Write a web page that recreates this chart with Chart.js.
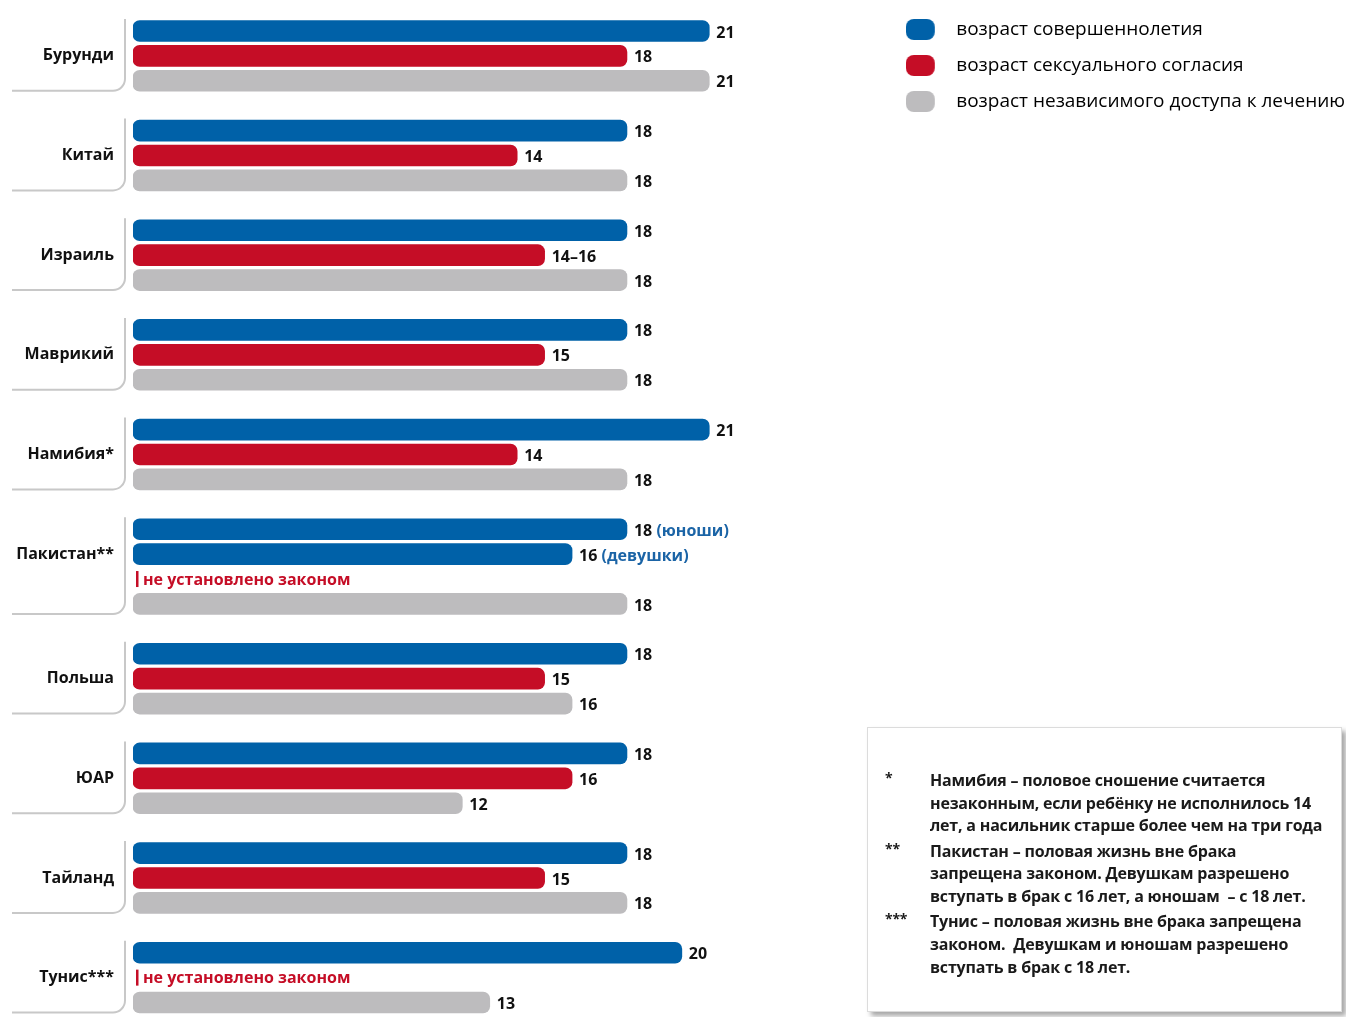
<!DOCTYPE html>
<html>
<head>
<meta charset="utf-8">
<script src="https://cdn.jsdelivr.net/npm/chart.js@4/dist/chart.umd.min.js"></script>
<style>
  body { margin: 0; background: #fff; }
  #wrap { position: relative; width: 1346px; height: 1017px; }
  #note {
    position: absolute; left: 867px; top: 727px; width: 475px; height: 285px;
    box-sizing: border-box; border: 1px solid #dcdcdc; background: #fff;
    box-shadow: 4px 4px 5px rgba(0, 0, 0, 0.35);
    font: bold 16px 'Open Sans', sans-serif; color: #1a1a1a; letter-spacing: -0.2px;
    padding-top: 41px; white-space: nowrap;
  }
  #note .row { position: relative; padding-left: 62px; line-height: 22.7px; margin-bottom: 2.5px; }
  #note .mark { position: absolute; left: 17px; top: -2px; font-size: 14px; }
</style>
</head>
<body>
<div id="wrap">
  <canvas id="grafico"></canvas>
  <div id="note">
    <div class="row"><span class="mark">*</span>Намибия – половое сношение считается<br>незаконным, если ребёнку не исполнилось 14<br>лет, а насильник старше более чем на три года</div>
    <div class="row"><span class="mark">**</span>Пакистан – половая жизнь вне брака<br>запрещена законом. Девушкам разрешено<br>вступать в брак с 16 лет, а юношам&nbsp; – с 18 лет.</div>
    <div class="row"><span class="mark">***</span>Тунис – половая жизнь вне брака запрещена<br>законом.&nbsp; Девушкам и юношам разрешено<br>вступать в брак с 18 лет.</div>
  </div>
</div>
<script>
const countries = ['Бурунди', 'Китай', 'Израиль', 'Маврикий', 'Намибия*', 'Пакистан**', 'Польша', 'ЮАР', 'Тайланд', 'Тунис***'];
const majorityAge = [21, 18, 18, 18, 21, 18, 18, 18, 18, 20];
const majorityAgeGirls = [null, null, null, null, null, 16, null, null, null, null];
const consentAge = [18, 14, 15, 15, 14, null, 15, 16, 15, null];
const consentText = ['18', '14', '14–16', '15', '14', null, '15', '16', '15', null];
const treatmentAge = [21, 18, 18, 18, 18, 18, 16, 12, 18, 13];
const seriesNames = ['возраст совершеннолетия', 'возраст сексуального согласия', 'возраст независимого доступа к лечению'];
const colors = ['#0061a8', '#c50d26', '#bdbcbe'];
const noLawText = 'не установлено законом';
const boysText = '(юноши)';
const girlsText = '(девушки)';

Chart.defaults.font.family = "'Open Sans', sans-serif";

// one category row per bar, an empty row between countries
const rowLabels = [], blueRows = [], redRows = [], grayRows = [], rowExtra = [], groups = [];
function addRow(label, b, r, g, extra) {
  rowLabels.push(label);
  blueRows.push(b);
  redRows.push(r);
  grayRows.push(g);
  rowExtra.push(extra || null);
}
countries.forEach((c, i) => {
  const start = rowLabels.length;
  const girls = majorityAgeGirls[i];
  addRow('', majorityAge[i], null, null, girls != null ? { suffix: boysText } : null);
  if (girls != null) addRow(c, girls, null, null, { suffix: girlsText });
  addRow(girls != null ? '' : c, null, consentAge[i], null,
    consentAge[i] == null ? { noLaw: true } : { text: consentText[i] });
  addRow('', null, null, treatmentAge[i]);
  groups.push([start, rowLabels.length - 1]);
  if (i < countries.length - 1) addRow('', null, null, null);
});

function swatch(color) {
  const c = document.createElement('canvas');
  c.width = 41; c.height = 21;
  const g = c.getContext('2d');
  g.fillStyle = color;
  g.beginPath();
  g.roundRect(0, 0, 29, 21, 8);
  g.fill();
  return c;
}

const brackets = {
  id: 'brackets',
  beforeDatasetsDraw(chart) {
    const { ctx, chartArea, scales: { y } } = chart;
    const xv = chartArea.left - 8, r = 12;
    ctx.save();
    ctx.strokeStyle = '#c8c8c8';
    ctx.lineWidth = 2;
    groups.forEach(([a, b]) => {
      const top = y.getPixelForValue(a) - 12;
      const bottom = y.getPixelForValue(b) + 10;
      ctx.beginPath();
      ctx.moveTo(xv, top);
      ctx.lineTo(xv, bottom - r);
      ctx.arcTo(xv, bottom, xv - r, bottom, r);
      ctx.lineTo(12, bottom);
      ctx.stroke();
    });
    ctx.restore();
  }
};

const valueLabels = {
  id: 'valueLabels',
  afterDatasetsDraw(chart) {
    const { ctx, scales: { x, y } } = chart;
    ctx.save();
    ctx.font = "bold 16px 'Open Sans', sans-serif";
    ctx.textBaseline = 'middle';
    chart.data.datasets.forEach((ds, di) => {
      chart.getDatasetMeta(di).data.forEach((bar, i) => {
        if (ds.data[i] == null) return;
        const extra = rowExtra[i];
        const text = di === 1 && extra && extra.text ? extra.text : String(ds.data[i]);
        ctx.fillStyle = '#111';
        ctx.fillText(text, bar.x + 7, bar.y + 2);
        if (extra && extra.suffix) {
          const w = ctx.measureText(text + ' ').width;
          ctx.fillStyle = '#1b64a6';
          ctx.fillText(extra.suffix, bar.x + 7 + w, bar.y + 2);
        }
      });
    });
    rowExtra.forEach((e, i) => {
      if (!e || !e.noLaw) return;
      const yy = y.getPixelForValue(i);
      const x0 = x.getPixelForValue(0);
      ctx.fillStyle = colors[1];
      ctx.fillRect(x0 + 3, yy - 8, 2.5, 16);
      ctx.fillText(noLawText, x0 + 10, yy + 1);
    });
    ctx.restore();
  }
};

const barStyle = { barThickness: 21, borderRadius: 7, borderSkipped: false };

new Chart(document.getElementById('grafico'), {
  type: 'bar',
  data: {
    labels: rowLabels,
    datasets: [
      { label: seriesNames[0], data: blueRows, backgroundColor: colors[0], ...barStyle },
      { label: seriesNames[1], data: redRows, backgroundColor: colors[1], ...barStyle },
      { label: seriesNames[2], data: grayRows, backgroundColor: colors[2], ...barStyle }
    ]
  },
  options: {
    indexAxis: 'y',
    responsive: true,
    maintainAspectRatio: false,
    animation: false,
    skipNull: true,
    layout: { padding: { top: 3, bottom: 2, left: 0, right: -9 } },
    scales: {
      x: {
        position: 'top',
        min: 0,
        max: 27.54,
        grid: { display: false, drawTicks: false },
        border: { display: false },
        ticks: { display: false },
        afterFit: (s) => { s.height = 15.5; }
      },
      y: {
        grid: { display: false, drawTicks: false },
        border: { display: false },
        ticks: { autoSkip: false, padding: 19, color: '#111', font: { size: 16, weight: 'bold' } },
        afterFit: (s) => {
          s.width = 133;
          s.paddingTop = 0;
          s.paddingBottom = 0;
        }
      }
    },
    plugins: {
      tooltip: { enabled: false },
      legend: {
        position: 'right',
        align: 'start',
        maxWidth: 520,
        labels: {
          usePointStyle: true,
          pointStyleWidth: 41,
          padding: 17,
          color: '#222',
          font: { size: 19 },
          generateLabels: (chart) => chart.data.datasets.map((ds, i) => ({
            text: ds.label,
            pointStyle: swatch(colors[i]),
            fillStyle: colors[i],
            strokeStyle: colors[i],
            lineWidth: 0,
            hidden: false,
            datasetIndex: i
          }))
        }
      }
    }
  },
  plugins: [brackets, valueLabels]
});
</script>
</body>
</html>
